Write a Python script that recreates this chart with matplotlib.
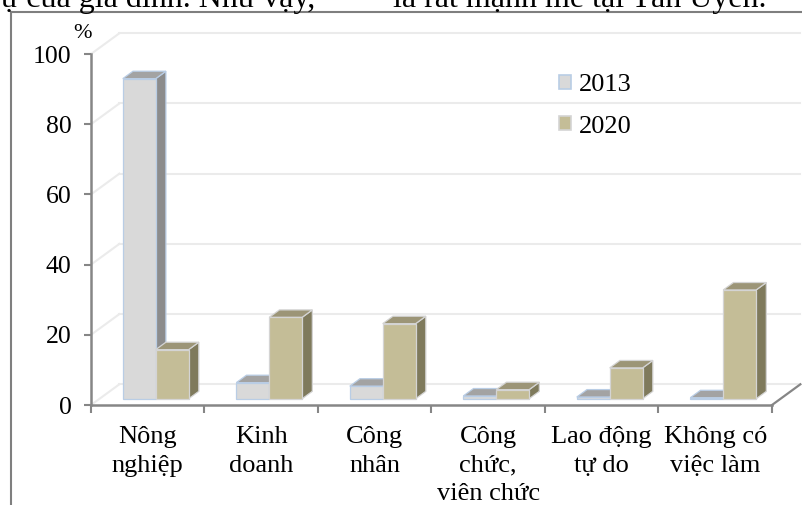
import matplotlib
matplotlib.use("Agg")
import numpy as np
import matplotlib.pyplot as plt
from matplotlib.patches import Polygon, Patch
from matplotlib.lines import Line2D

# Occupation structure, percent of respondents
categories = ["Nông\nnghiệp", "Kinh\ndoanh", "Công\nnhân",
              "Công\nchức,\nviên chức", "Lao động\ntự do", "Không có\nviệc làm"]
series_names = ["2013", "2020"]
values_2013 = [91.2, 4.6, 3.6, 0.8, 0.5, 0.3]
values_2020 = [14.0, 23.2, 21.4, 2.6, 8.8, 31.0]
y_ticks = [0, 20, 40, 60, 80, 100]

plt.rcParams["font.family"] = ["Liberation Serif", "DejaVu Serif"]

W, H = 803, 505
fig = plt.figure(figsize=(W / 100, H / 100), dpi=100)
ax = fig.add_axes([91 / W, 100 / H, 681 / W, 351 / H])
ax.set_xlim(-0.5, len(categories) - 0.5)
ax.set_ylim(0, 100)
ax.patch.set_visible(False)

# pseudo-3D floor depth (data units) and bar placement within it
DX, DY = 0.25, 5.9
FRONT, DEPTH = 0.30, 0.36
BW = 0.29
GRID = "#EBEBEB"
AXC = "#868686"

x_lo, x_hi = -0.5, len(categories) - 0.5
for v in y_ticks:
    ax.plot([x_lo + DX, x_hi + DX], [v + DY, v + DY], color=GRID, lw=1.5,
            clip_on=False, zorder=0.5)
    ax.plot([x_lo, x_lo + DX], [v, v + DY], color=GRID, lw=1.5,
            clip_on=False, zorder=0.5)
ax.plot([x_hi, x_hi + DX], [0, DY], color=AXC, lw=1.6, clip_on=False, zorder=2.5)

styles = {
    "2013": dict(face="#D9D9D9", top="#A3A3A3", side="#8C8C8C", edge="#B9CDE5"),
    "2020": dict(face="#C4BD97", top="#9C9577", side="#7F7A5C", edge="#D4D4D4"),
}


def bar3d(x0, h, st):
    x0 = x0 + FRONT * DX
    y0 = FRONT * DY
    x1, y1 = x0 + BW, y0 + h
    ddx, ddy = DEPTH * DX, DEPTH * DY
    faces = [
        ([(x1, y0), (x1 + ddx, y0 + ddy), (x1 + ddx, y1 + ddy), (x1, y1)], st["side"]),
        ([(x0, y1), (x1, y1), (x1 + ddx, y1 + ddy), (x0 + ddx, y1 + ddy)], st["top"]),
        ([(x0, y0), (x1, y0), (x1, y1), (x0, y1)], st["face"]),
    ]
    for pts, col in faces:
        ax.add_patch(Polygon(pts, closed=True, facecolor=col, edgecolor=st["edge"],
                             lw=0.9, clip_on=False, zorder=2))


for i in range(len(categories)):
    bar3d(i - 0.295, values_2013[i], styles["2013"])
    bar3d(i - 0.005, values_2020[i], styles["2020"])

for s in ("top", "right"):
    ax.spines[s].set_visible(False)
for s in ("left", "bottom"):
    ax.spines[s].set_color(AXC)
    ax.spines[s].set_linewidth(1.8)

ax.set_yticks(y_ticks)
ax.tick_params(axis="y", direction="out", length=5, width=1.5, color=AXC,
               pad=9, labelsize=18.5)
ax.set_xticks(np.arange(x_lo, x_hi + 0.01, 1))
ax.set_xticks(np.arange(len(categories)), minor=True)
ax.set_xticklabels(categories, minor=True)
ax.tick_params(axis="x", which="major", direction="out", length=6, width=1.5,
               color=AXC, labelbottom=False)
ax.tick_params(axis="x", which="minor", length=0, pad=15, labelsize=19)
for lbl in ax.get_xticklabels(minor=True):
    lbl.set_linespacing(1.4)

fig.text(83 / W, 1 - 33 / H, "%", ha="center", va="center", fontsize=16)

handles = [Patch(facecolor=styles[n]["face"], edgecolor=styles[n]["edge"], lw=1.2)
           for n in series_names]
ax.legend(handles, series_names, loc="upper left",
          bbox_to_anchor=(559 / W, 1 - 74 / H), bbox_transform=fig.transFigure,
          frameon=False, fontsize=19, handlelength=0.45, handleheight=0.45,
          handletextpad=0.3, labelspacing=0.75, borderpad=0, borderaxespad=0)

# surrounding frame and the cut-off text line above it
fig.add_artist(Line2D([11 / W, 11 / W], [0, 1 - 12 / H], transform=fig.transFigure,
                      color="#7F7F7F", lw=1.5))
fig.add_artist(Line2D([11 / W, 1], [1 - 12 / H, 1 - 12 / H], transform=fig.transFigure,
                      color="#7F7F7F", lw=1.5))
fig.text(1 / W, 1 - 6.5 / H, "ự của gia đình. Như vậy,", va="baseline", fontsize=23)
fig.text(393 / W, 1 - 6.5 / H, "là rất mạnh mẽ tại Tân Uyên.", va="baseline", fontsize=23)

fig.savefig("out.png", dpi=100)
